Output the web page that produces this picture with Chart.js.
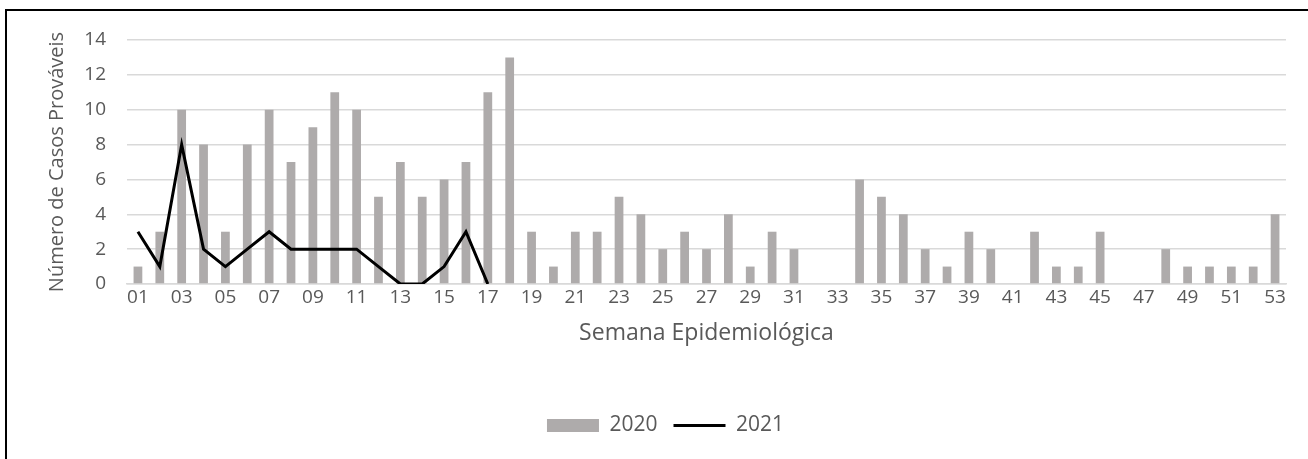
<!DOCTYPE html>
<html>
<head>
<meta charset="utf-8">
<script src="https://cdn.jsdelivr.net/npm/chart.js@4.4.0/dist/chart.umd.min.js"></script>
<style>
    html, body { margin: 0; padding: 0; background: #fff; }
    #frame {
        position: absolute; left: 5px; top: 9px;
        width: 1301px; height: 448px;
        border-top: 2px solid #000; border-left: 2px solid #000;
    }
    #casos { display: block; }
</style>
</head>
<body>
<div id="frame"><canvas id="casos" width="1301" height="448"></canvas></div>
<script>
// Semanas epidemiológicas 01..53
const semanas = ['01','02','03','04','05','06','07','08','09','10','11','12','13','14','15','16','17','18','19','20',
    '21','22','23','24','25','26','27','28','29','30','31','32','33','34','35','36','37','38','39','40',
    '41','42','43','44','45','46','47','48','49','50','51','52','53'];

// Casos prováveis 2020 (barras)
const casos2020 = [1, 3, 10, 8, 3, 8, 10, 7, 9, 11, 10, 5, 7, 5, 6, 7, 11, 13, 3, 1,
    3, 3, 5, 4, 2, 3, 2, 4, 1, 3, 2, 0, 0, 6, 5, 4, 2, 1, 3, 2,
    0, 3, 1, 1, 3, 0, 0, 2, 1, 1, 1, 1, 4];

// Casos prováveis 2021 (linha), só até a semana 17
const casos2021 = [3, 1, 8, 2, 1, 2, 3, 2, 2, 2, 2, 1, 0, 0, 1, 3, 0];

const yTicks = [0, 2, 4, 6, 8, 10, 12, 14];

const FONT = "'Open Sans', 'Noto Sans', sans-serif";
const TEXT = '#595959';
const GRID = '#d9d9d9';
const BAR = '#aeabab';

let ctx = document.getElementById('casos').getContext('2d');
let chart = new Chart(ctx, {
    type: 'bar',
    data: {
        labels: semanas,
        datasets: [
            {
                label: '2020',
                data: casos2020,
                backgroundColor: BAR,
                barPercentage: 0.4,
                categoryPercentage: 1,
                order: 1
            },
            {
                type: 'line',
                label: '2021',
                data: casos2021,
                borderColor: '#000',
                borderWidth: 3,
                pointRadius: 0,
                tension: 0,
                fill: false,
                order: 0
            }
        ]
    },
    options: {
        responsive: false,
        animation: false,
        layout: { padding: { left: 38, right: 22, top: 29, bottom: 13 } },
        plugins: {
            tooltip: { enabled: false },
            legend: {
                position: 'bottom',
                labels: {
                    color: TEXT,
                    font: { family: FONT, size: 21 },
                    usePointStyle: true,
                    pointStyleWidth: 52,
                    boxHeight: 13,
                    padding: 16,
                    // fixed order: bars first, then the line
                    generateLabels: (c) => [
                        { text: '2020', pointStyle: 'rect', fillStyle: BAR, strokeStyle: BAR, lineWidth: 0, fontColor: TEXT, datasetIndex: 0 },
                        { text: '2021', pointStyle: 'line', fillStyle: '#000', strokeStyle: '#000', lineWidth: 3, fontColor: TEXT, datasetIndex: 1 }
                    ]
                }
            }
        },
        scales: {
            x: {
                grid: { display: false, drawTicks: false },
                border: { color: GRID, width: 1.5 },
                ticks: {
                    autoSkip: false,
                    maxRotation: 0,
                    padding: 2,
                    color: TEXT,
                    font: { family: FONT, size: 19 },
                    callback: function (v, i) { return i % 2 === 0 ? this.getLabelForValue(v) : ''; }
                },
                title: {
                    display: true,
                    text: 'Semana Epidemiológica',
                    color: TEXT,
                    font: { family: FONT, size: 23 },
                    padding: { top: 4, bottom: 52 }
                },
                afterFit: (s) => { s.height = 115; }
            },
            y: {
                min: 0,
                max: 14,
                afterBuildTicks: (s) => { s.ticks = yTicks.map(v => ({ value: v })); },
                // invisible tick marks only make the gap between labels and plot
                grid: { color: GRID, lineWidth: 1.5, drawTicks: true, tickLength: 18, tickColor: 'rgba(0,0,0,0)' },
                border: { display: false },
                ticks: {
                    padding: 3,
                    color: TEXT,
                    font: { family: FONT, size: 19 }
                },
                title: {
                    display: true,
                    text: 'Número de Casos Prováveis',
                    color: TEXT,
                    font: { family: FONT, size: 20 },
                    padding: 0
                },
                afterFit: (s) => { s.width = 82; }
            }
        }
    }
});
</script>
</body>
</html>
